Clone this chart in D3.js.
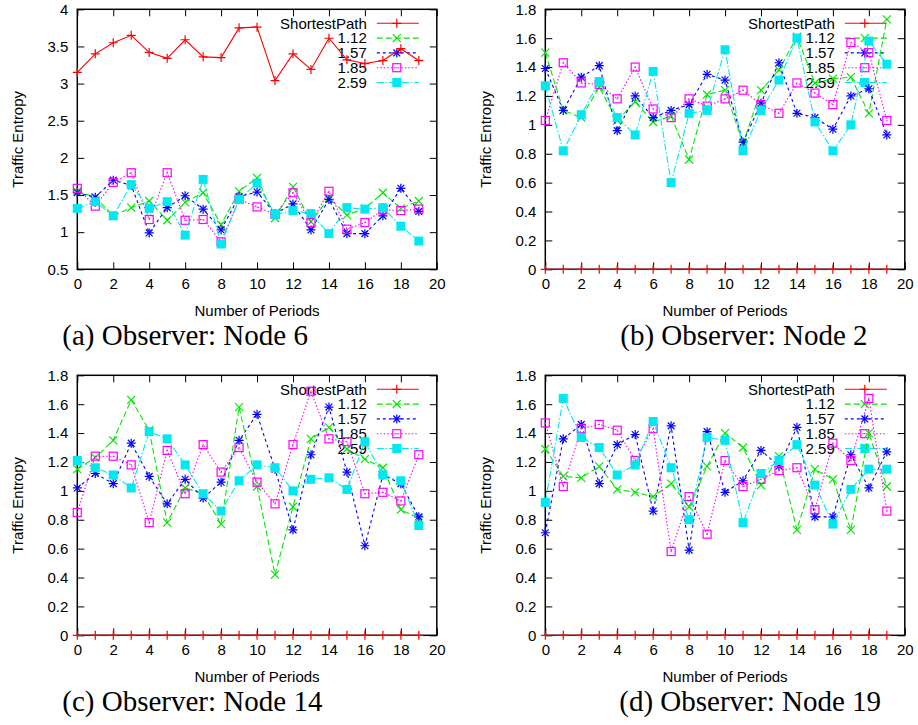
<!DOCTYPE html>
<html>
<head>
<meta charset="utf-8">
<script src="https://cdnjs.cloudflare.com/ajax/libs/d3/7.8.5/d3.min.js"></script>
<style>
  body { margin: 0; background: #fff; }
  svg { display: block; }
</style>
</head>
<body>
<svg id="chart"></svg>
<script>
// periods on the x axis
const periods = [0, 1, 2, 3, 4, 5, 6, 7, 8, 9, 10, 11, 12, 13, 14, 15, 16, 17, 18, 19];
const seriesNames = ["ShortestPath", "1.12", "1.57", "1.85", "2.59"];
const xTicks = [0, 2, 4, 6, 8, 10, 12, 14, 16, 18, 20];
const yTicksNode6 = [0.5, 1, 1.5, 2, 2.5, 3, 3.5, 4];
const yTicksOther = [0, 0.2, 0.4, 0.6, 0.8, 1, 1.2, 1.4, 1.6, 1.8];
const captions = ["(a) Observer: Node 6", "(b) Observer: Node 2", "(c) Observer: Node 14", "(d) Observer: Node 19"];

// (a) observer node 6
const n6Shortest = [3.15, 3.40, 3.55, 3.65, 3.42, 3.34, 3.59, 3.36, 3.35, 3.75, 3.76, 3.04, 3.40, 3.19, 3.61, 3.32, 3.27, 3.31, 3.47, 3.31];
const n6_112 = [1.55, 1.47, 1.22, 1.33, 1.42, 1.16, 1.40, 1.53, 1.10, 1.55, 1.73, 1.19, 1.61, 1.14, 1.46, 1.23, 1.32, 1.53, 1.32, 1.42];
const n6_157 = [1.53, 1.47, 1.70, 1.63, 0.99, 1.33, 1.49, 1.31, 1.03, 1.48, 1.54, 1.25, 1.38, 1.03, 1.44, 0.98, 0.98, 1.22, 1.59, 1.28];
const n6_185 = [1.59, 1.35, 1.67, 1.80, 1.17, 1.80, 1.16, 1.17, 0.87, 1.44, 1.34, 1.24, 1.53, 1.13, 1.55, 1.04, 1.13, 1.30, 1.29, 1.31];
const n6_259 = [1.32, 1.41, 1.22, 1.64, 1.32, 1.41, 0.96, 1.71, 0.84, 1.44, 1.66, 1.24, 1.29, 1.25, 0.98, 1.33, 1.31, 1.33, 1.08, 0.88];

// (b) observer node 2
const n2Shortest = [0, 0, 0, 0, 0, 0, 0, 0, 0, 0, 0, 0, 0, 0, 0, 0, 0, 0, 0, 0];
const n2_112 = [1.50, 1.10, 1.05, 1.26, 1.03, 1.16, 1.02, 1.06, 0.76, 1.21, 1.24, 0.87, 1.24, 1.38, 1.61, 1.29, 1.32, 1.33, 1.08, 1.73];
const n2_157 = [1.39, 1.10, 1.33, 1.41, 0.96, 1.20, 1.05, 1.10, 1.14, 1.35, 1.31, 0.88, 1.15, 1.43, 1.08, 1.05, 0.97, 1.20, 1.25, 0.93];
const n2_185 = [1.03, 1.43, 1.29, 1.28, 1.18, 1.40, 1.11, 1.05, 1.18, 1.13, 1.18, 1.24, 1.14, 1.08, 1.29, 1.22, 1.14, 1.57, 1.50, 1.03];
const n2_259 = [1.27, 0.82, 1.07, 1.30, 1.05, 0.93, 1.37, 0.60, 1.08, 1.10, 1.52, 0.82, 1.10, 1.31, 1.60, 1.02, 0.82, 1.00, 1.58, 1.42];

// (c) observer node 14
const n14Shortest = [0, 0, 0, 0, 0, 0, 0, 0, 0, 0, 0, 0, 0, 0, 0, 0, 0, 0, 0, 0];
const n14_112 = [1.15, 1.23, 1.35, 1.63, 1.42, 0.78, 1.02, 0.98, 0.77, 1.58, 1.03, 0.42, 0.89, 1.36, 1.44, 1.29, 1.22, 1.16, 0.87, 0.81];
const n14_157 = [1.02, 1.12, 1.05, 1.33, 1.10, 0.91, 1.08, 0.95, 1.06, 1.35, 1.53, 1.15, 0.73, 1.25, 1.58, 1.13, 0.62, 1.11, 1.05, 0.82];
const n14_185 = [0.85, 1.24, 1.24, 1.18, 0.78, 1.28, 0.98, 1.32, 1.13, 1.30, 1.06, 0.91, 1.32, 1.69, 1.36, 1.34, 0.98, 0.99, 0.93, 1.25];
const n14_259 = [1.21, 1.16, 1.11, 1.02, 1.41, 1.36, 1.18, 0.98, 0.86, 1.07, 1.18, 1.16, 1.00, 1.08, 1.09, 1.01, 1.34, 1.11, 1.07, 0.76];

// (d) observer node 19
const n19Shortest = [0, 0, 0, 0, 0, 0, 0, 0, 0, 0, 0, 0, 0, 0, 0, 0, 0, 0, 0, 0];
const n19_112 = [1.29, 1.10, 1.09, 1.17, 1.01, 0.99, 0.96, 1.05, 0.89, 1.17, 1.40, 1.30, 1.04, 1.24, 0.73, 1.15, 1.08, 0.73, 1.40, 1.03];
const n19_157 = [0.71, 1.36, 1.46, 1.05, 1.32, 1.39, 0.86, 1.45, 0.59, 1.41, 0.99, 1.07, 1.28, 1.17, 1.44, 0.82, 0.82, 1.25, 1.02, 1.27];
const n19_185 = [1.47, 1.03, 1.43, 1.46, 1.42, 1.21, 1.43, 0.58, 0.96, 0.70, 1.21, 1.03, 1.08, 1.14, 1.16, 0.87, 1.33, 1.21, 1.64, 0.86];
const n19_259 = [0.92, 1.64, 1.37, 1.30, 1.11, 1.18, 1.48, 1.16, 0.80, 1.37, 1.35, 0.78, 1.12, 1.21, 1.32, 1.04, 0.77, 1.01, 1.15, 1.15];

const width = 918;
const height = 725;

// gnuplot-ish line types
const styles = [
  { color: "#ff0000", dash: null, marker: "plus" },
  { color: "#00e800", dash: "6,3", marker: "cross" },
  { color: "#0000ff", dash: "3,3", marker: "star" },
  { color: "#ff00ff", dash: "1.5,2", marker: "boxOpen" },
  { color: "#00e8f0", dash: "7,2,1.5,2", marker: "boxFilled" }
];

const panels = [
  { left: 77.3, top: 9.3, yDomain: [0.5, 4], yTicks: yTicksNode6, caption: captions[0], capX: -15,
    series: [n6Shortest, n6_112, n6_157, n6_185, n6_259] },
  { left: 545.3, top: 9.3, yDomain: [0, 1.8], yTicks: yTicksOther, caption: captions[1], capX: 75,
    series: [n2Shortest, n2_112, n2_157, n2_185, n2_259] },
  { left: 77.3, top: 375.3, yDomain: [0, 1.8], yTicks: yTicksOther, caption: captions[2], capX: -15,
    series: [n14Shortest, n14_112, n14_157, n14_185, n14_259] },
  { left: 545.3, top: 375.3, yDomain: [0, 1.8], yTicks: yTicksOther, caption: captions[3], capX: 74,
    series: [n19Shortest, n19_112, n19_157, n19_185, n19_259] }
];

const plotW = 359.5;
const plotH = 260;

const svg = d3.select("#chart")
  .attr("width", width)
  .attr("height", height)
  .style("font-family", "'Liberation Sans', Arial, sans-serif");

svg.append("rect").attr("width", width).attr("height", height).attr("fill", "#fff");

function drawMarker(g, type, color, x, y) {
  const s = 4.5;
  const m = g.append("g").attr("transform", `translate(${x},${y})`);
  if (type === "plus" || type === "star") {
    m.append("path").attr("d", `M${-s},0H${s}M0,${-s}V${s}`)
      .attr("stroke", color).attr("stroke-width", 1.2).attr("fill", "none");
  }
  if (type === "cross" || type === "star") {
    const c = type === "star" ? 3.4 : 4;
    m.append("path").attr("d", `M${-c},${-c}L${c},${c}M${-c},${c}L${c},${-c}`)
      .attr("stroke", color).attr("stroke-width", 1.2).attr("fill", "none");
  }
  if (type === "boxOpen") {
    m.append("rect").attr("x", -4).attr("y", -4).attr("width", 8).attr("height", 8)
      .attr("fill", "none").attr("stroke", color).attr("stroke-width", 1.2);
    m.append("rect").attr("x", -0.6).attr("y", -0.6).attr("width", 1.2).attr("height", 1.2)
      .attr("fill", color);
  }
  if (type === "boxFilled") {
    m.append("rect").attr("x", -4.5).attr("y", -4.5).attr("width", 9).attr("height", 9)
      .attr("fill", color);
  }
}

panels.forEach(p => {
  const g = svg.append("g").attr("transform", `translate(${p.left},${p.top})`);

  const x = d3.scaleLinear().domain([0, 20]).range([0, plotW]);
  const y = d3.scaleLinear().domain(p.yDomain).range([plotH, 0]);

  // axes with inward ticks, mirrored on top and right
  const fmt = d => String(d);
  const axes = [
    { ax: d3.axisBottom(x).tickValues(xTicks).tickSize(-7).tickPadding(9).tickFormat(fmt), t: `translate(0,${plotH})` },
    { ax: d3.axisTop(x).tickValues(xTicks).tickSize(-7).tickFormat(""), t: "translate(0,0)" },
    { ax: d3.axisLeft(y).tickValues(p.yTicks).tickSize(-7).tickPadding(9).tickFormat(fmt), t: "translate(0,0)" },
    { ax: d3.axisRight(y).tickValues(p.yTicks).tickSize(-7).tickFormat(""), t: `translate(${plotW},0)` }
  ];
  axes.forEach(a => {
    const ag = g.append("g").attr("transform", a.t).call(a.ax);
    ag.select(".domain").remove();
    ag.selectAll(".tick line").attr("stroke", "#000").attr("stroke-width", 1);
    ag.selectAll(".tick text").attr("fill", "#000")
      .style("font-size", "15px").style("font-family", "'Liberation Sans', Arial, sans-serif");
  });

  g.append("rect")
    .attr("width", plotW).attr("height", plotH)
    .attr("fill", "none").attr("stroke", "#000").attr("stroke-width", 1.5);

  // legend
  const legX = plotW - 70;
  seriesNames.forEach((name, i) => {
    const ly = 14 + i * 14.8;
    const st = styles[i];
    g.append("text")
      .attr("x", legX).attr("y", ly).attr("dy", "0.35em")
      .attr("text-anchor", "end")
      .style("font-size", "15px")
      .text(name);
    g.append("line")
      .attr("x1", plotW - 60).attr("x2", plotW - 18)
      .attr("y1", ly).attr("y2", ly)
      .attr("stroke", st.color).attr("stroke-width", 1.1)
      .attr("stroke-dasharray", st.dash);
    drawMarker(g, st.marker, st.color, plotW - 40, ly);
  });

  // series lines and points
  const line = d3.line().x((d, i) => x(periods[i])).y(d => y(d));
  p.series.forEach((vals, si) => {
    const st = styles[si];
    g.append("path")
      .datum(vals)
      .attr("d", line)
      .attr("fill", "none")
      .attr("stroke", st.color)
      .attr("stroke-width", 1.1)
      .attr("stroke-dasharray", st.dash);
    vals.forEach((v, i) => drawMarker(g, st.marker, st.color, x(periods[i]), y(v)));
  });

  // axis titles
  g.append("text")
    .attr("transform", `translate(-60,${plotH / 2}) rotate(-90)`)
    .attr("text-anchor", "middle")
    .attr("dy", "0.35em")
    .style("font-size", "15px")
    .text("Traffic Entropy");

  g.append("text")
    .attr("x", plotW / 2).attr("y", plotH + 47)
    .attr("text-anchor", "middle")
    .style("font-size", "15px")
    .text("Number of Periods");

  // caption under each panel
  g.append("text")
    .attr("x", p.capX).attr("y", plotH + 76)
    .attr("text-anchor", "start")
    .style("font-family", "'Liberation Serif', 'Times New Roman', serif")
    .style("font-size", "29px")
    .text(p.caption);
});
</script>
</body>
</html>
